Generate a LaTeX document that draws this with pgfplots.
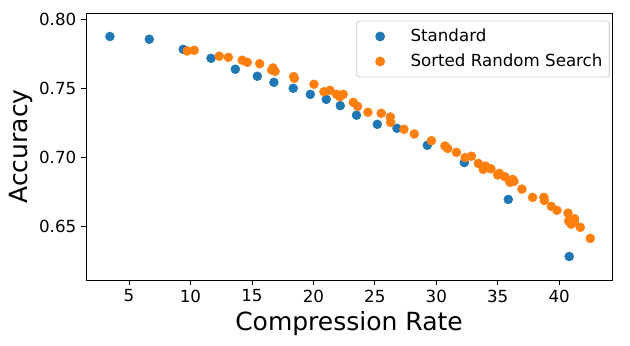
\documentclass[border=0pt]{standalone}
\usepackage{fontspec}
\setmainfont{DejaVu Sans}
\usepackage{pgfplots}
\pgfplotsset{compat=1.18}

\definecolor{tabblue}{HTML}{1F77B4}
\definecolor{taborange}{HTML}{FF7F0E}

\begin{document}
\begin{tikzpicture}[x=0.72pt,y=0.72pt]
\begin{axis}[
  name=ax,
  scale only axis,
  width=378.7pt, height=192.2pt,
  xmin=1.5, xmax=44.3,
  ymin=0.611, ymax=0.8043,
  xtick={5,10,...,40},
  ytick={0.65,0.70,0.75,0.80},
  yticklabel style={/pgf/number format/fixed,/pgf/number format/fixed zerofill,/pgf/number format/precision=2},
  /pgf/number format/assume math mode=true,
  tick align=outside,
  xtick pos=bottom, ytick pos=left,
  major tick length=3.5pt,
  every tick/.style={black, line width=0.6pt},
  tick label style={font=\fontsize{12}{14}\selectfont},
  xlabel={Compression Rate}, ylabel={Accuracy},
  label style={font=\fontsize{18}{21}\selectfont},
  ylabel style={yshift=-2pt},
  axis line style={line width=0.6pt},
  legend style={at={(1,1)}, xshift=-1.6pt, yshift=-5.4pt, anchor=north east,
    draw=black!20, rounded corners=2pt, line width=0.6pt,
    font=\fontsize{12}{14}\selectfont,
    inner xsep=5pt, inner ysep=4.5pt, row sep=4.6pt, column sep=0pt,
    nodes={inner sep=0pt, text height=10.4pt, text depth=3pt}},
  legend cell align=left,
  legend image code/.code={
    \path (-11.6pt,0pt) (21.6pt,0pt);
    \draw[#1] plot coordinates {(0pt,0pt)};
  },
]
\addplot[only marks, mark=*, mark size=3.2pt, color=tabblue, mark options={draw=tabblue, fill=tabblue}] coordinates {
(3.45,0.7873) (6.65,0.7853) (9.41,0.7780) (11.67,0.7715) (13.65,0.7636)
(15.44,0.7585) (16.79,0.7541) (18.36,0.7498) (19.75,0.7454) (21.05,0.7418)
(22.19,0.7372) (23.51,0.7303) (25.20,0.7237) (26.80,0.7208) (29.27,0.7085)
(32.28,0.6960) (35.86,0.6693) (40.82,0.6280)
};
\addlegendentry{Standard}
\addplot[only marks, mark=*, mark size=3.2pt, color=taborange, mark options={draw=taborange, fill=taborange}] coordinates {
(9.74,0.7768) (10.31,0.7773) (12.34,0.7730) (13.08,0.7722) (14.21,0.7701)
(14.62,0.7686) (15.63,0.7676) (16.61,0.7630) (16.71,0.7645) (16.88,0.7621)
(18.40,0.7582) (18.45,0.7570) (20.05,0.7527) (20.86,0.7473) (21.35,0.7483)
(21.90,0.7454) (22.16,0.7437) (22.43,0.7454) (23.25,0.7396) (23.60,0.7367)
(24.44,0.7324) (25.52,0.7317) (26.26,0.7290) (26.29,0.7251) (27.37,0.7201)
(28.21,0.7167) (29.61,0.7118) (30.71,0.7080) (30.93,0.7062) (31.64,0.7034)
(32.35,0.6996) (32.86,0.7006) (33.42,0.6954) (33.82,0.6911) (33.99,0.6935)
(34.45,0.6915) (35.00,0.6870) (35.13,0.6882) (35.59,0.6857) (36.00,0.6817)
(36.22,0.6838) (36.32,0.6824) (36.97,0.6768) (37.84,0.6708) (38.76,0.6708)
(38.79,0.6686) (39.36,0.6643) (39.82,0.6614) (40.72,0.6594) (40.77,0.6536)
(40.98,0.6514) (41.26,0.6553) (41.23,0.6531) (41.72,0.6491) (42.53,0.6411)
};
\addlegendentry{Sorted Random Search}
\end{axis}
\path ([shift={(-86,-66)}]ax.south west) rectangle ([shift={(18,13)}]ax.north east);
\end{tikzpicture}
\end{document}
